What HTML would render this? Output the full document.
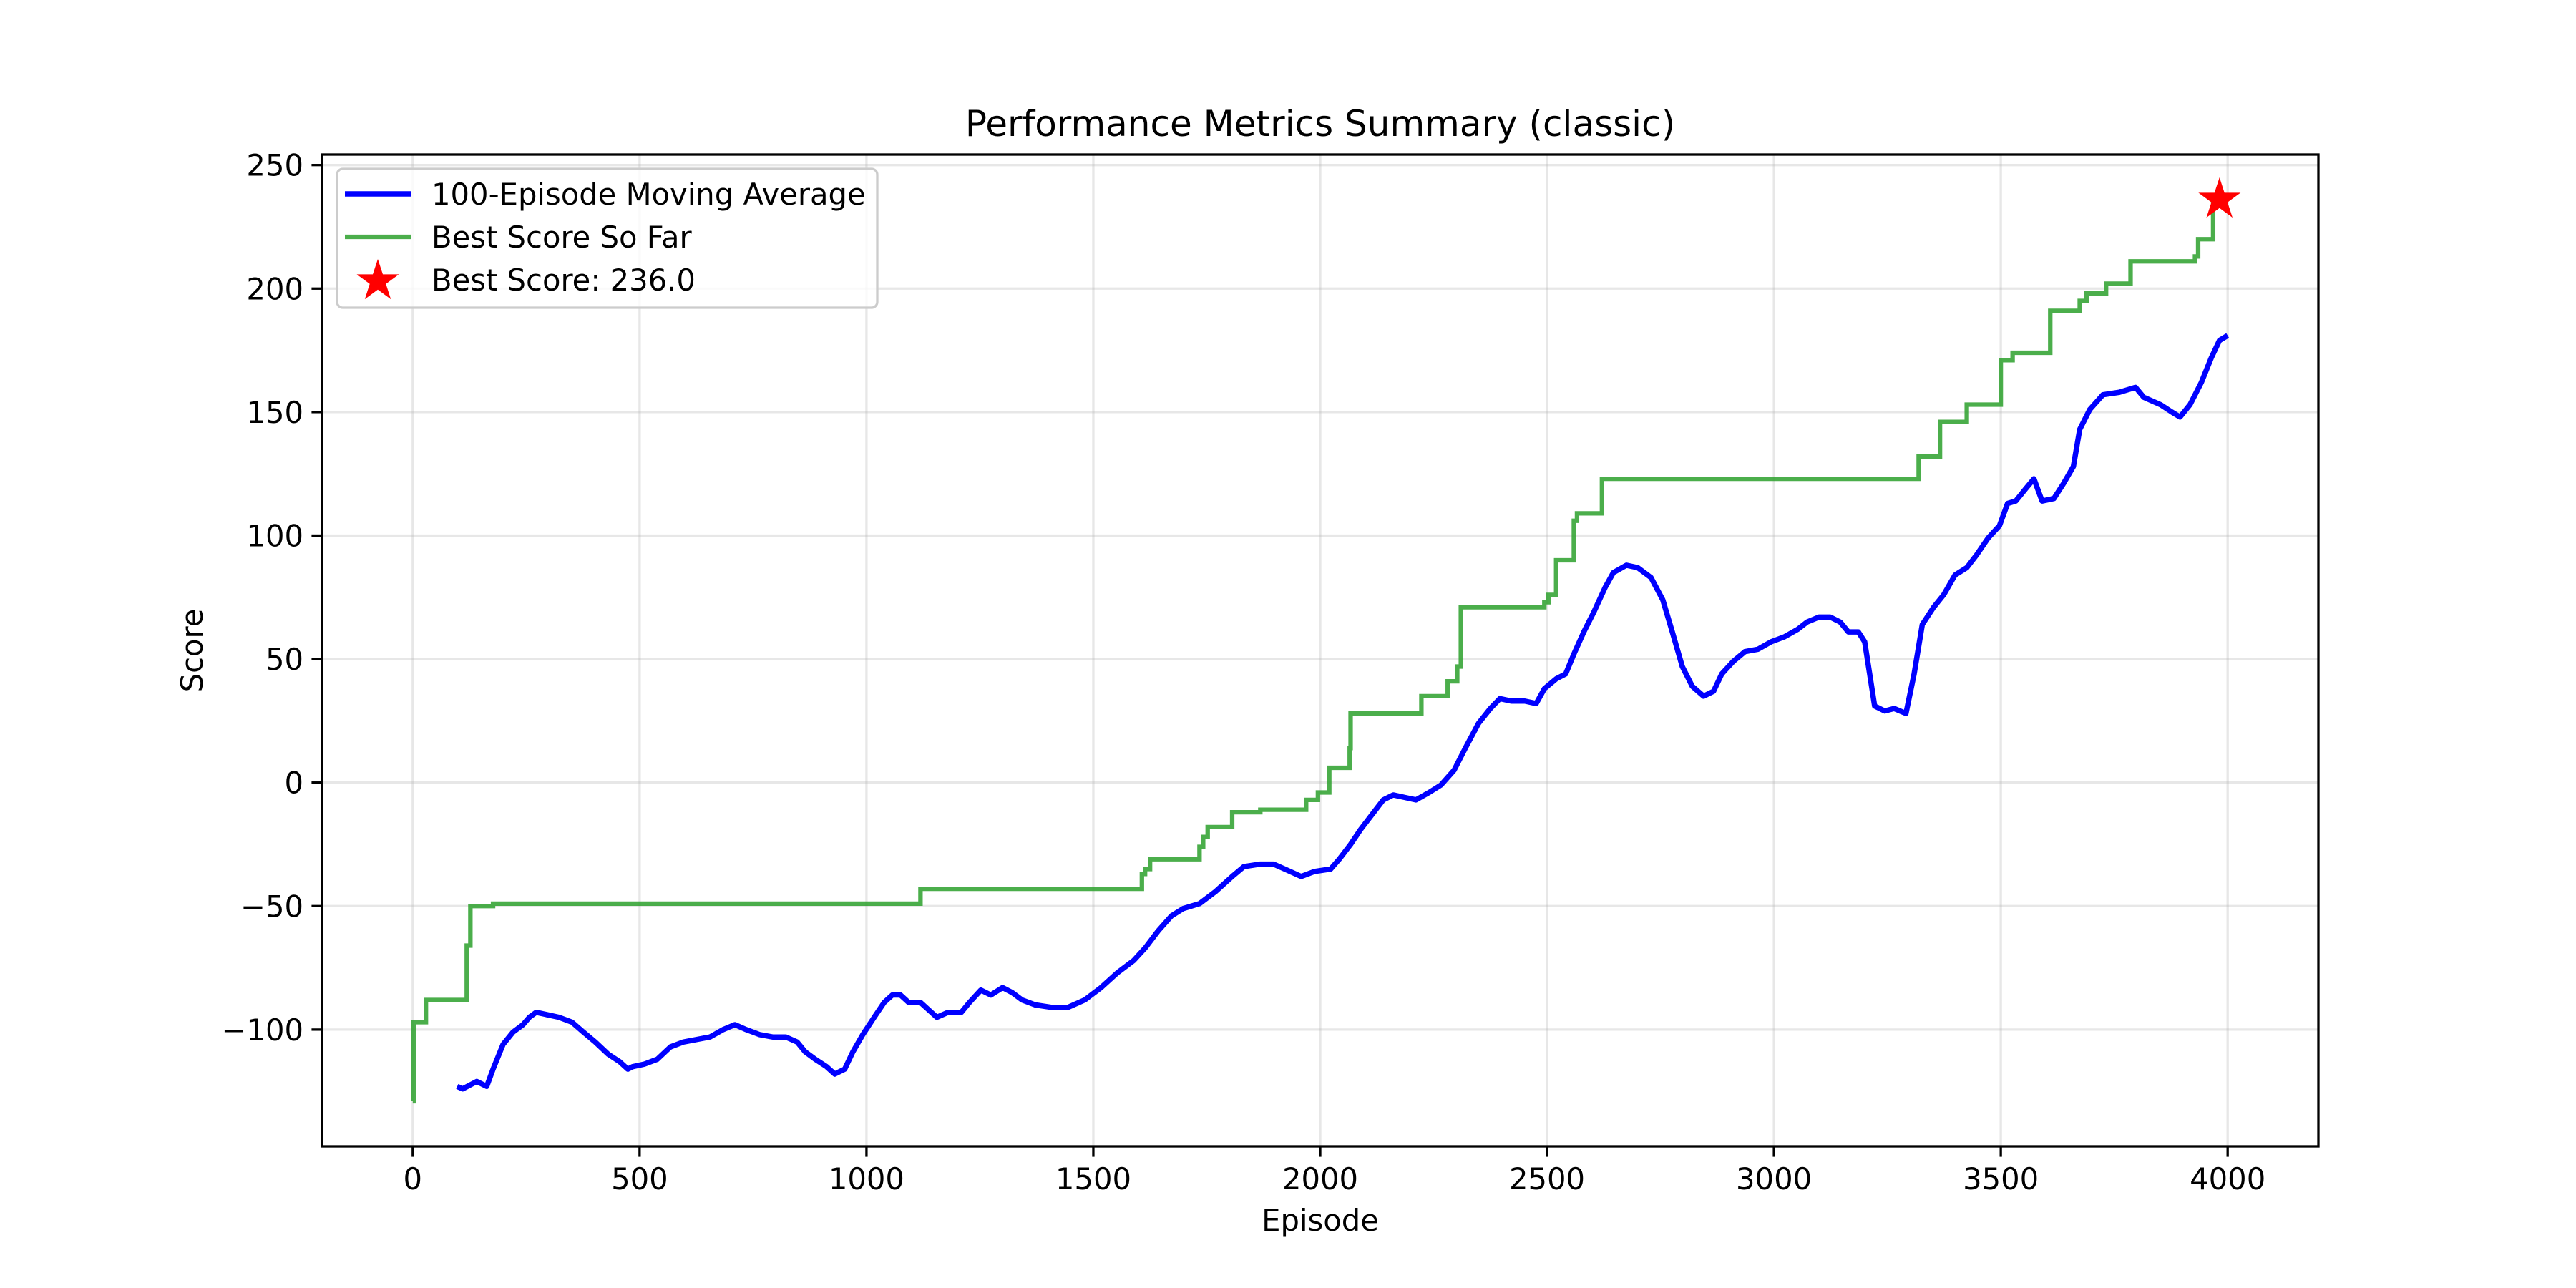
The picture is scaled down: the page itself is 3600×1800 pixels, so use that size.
<!DOCTYPE html>
<html><head><meta charset="utf-8"><style>
html,body{margin:0;padding:0;background:#fff;}
svg{display:block;font-family:"DejaVu Sans","Liberation Sans",sans-serif;}
</style></head><body>
<svg id="chart" width="3600" height="1800" viewBox="0 0 3600 1800" xmlns="http://www.w3.org/2000/svg">
<rect width="3600" height="1800" fill="#fff"/>
<g id="grid"></g>
<g id="series"></g>
<g id="axes"></g>
<g id="legend"></g>
</svg>
<script>
const maEpisodes=[98,110,141,163,177,199,221,243,257,272,297,322,351,376,402,431,456,474,485,510,539,568,597,626,655,684,710,735,764,793,822,847,865,887,912,930,952,970,992,1017,1039,1057,1075,1093,1119,1137,1155,1180,1209,1227,1252,1274,1300,1321,1343,1372,1408,1444,1481,1517,1553,1589,1614,1643,1672,1698,1734,1770,1806,1832,1868,1897,1922,1958,1987,2023,2042,2067,2089,2114,2139,2161,2186,2211,2240,2266,2295,2320,2349,2375,2396,2422,2451,2476,2494,2520,2541,2559,2581,2603,2628,2646,2675,2700,2729,2755,2776,2798,2820,2845,2867,2885,2910,2936,2965,2994,3023,3052,3073,3099,3124,3146,3164,3186,3200,3211,3222,3244,3265,3291,3309,3327,3352,3374,3399,3425,3446,3472,3497,3515,3533,3555,3573,3591,3617,3638,3660,3674,3696,3725,3761,3797,3815,3852,3877,3895,3917,3942,3964,3982,4000];
const maValues=[-123,-124,-121,-123,-116,-106,-101,-98,-95,-93,-94,-95,-97,-101,-105,-110,-113,-116,-115,-114,-112,-107,-105,-104,-103,-100,-98,-100,-102,-103,-103,-105,-109,-112,-115,-118,-116,-109,-102,-95,-89,-86,-86,-89,-89,-92,-95,-93,-93,-89,-84,-86,-83,-85,-88,-90,-91,-91,-88,-83,-77,-72,-67,-60,-54,-51,-49,-44,-38,-34,-33,-33,-35,-38,-36,-35,-31,-25,-19,-13,-7,-5,-6,-7,-4,-1,5,14,24,30,34,33,33,32,38,42,44,52,61,69,79,85,88,87,83,74,61,47,39,35,37,44,49,53,54,57,59,62,65,67,67,65,61,61,57,44,31,29,30,28,44,64,71,76,84,87,92,99,104,113,114,119,123,114,115,121,128,143,151,157,158,160,156,153,150,148,153,162,172,179,181];
const bestEpisodes=[0,2,29,119,127,177,1119,1607,1614,1625,1734,1742,1752,1806,1868,1969,1995,2020,2065,2067,2223,2281,2302,2310,2494,2503,2520,2559,2566,2621,3319,3366,3425,3500,3526,3609,3674,3689,3732,3786,3928,3935,3968,3990];
const bestValues=[-129,-97,-88,-66,-50,-49,-43,-37,-35,-31,-26,-22,-18,-12,-11,-7,-4,6,14,28,35,41,47,71,73,76,90,106,109,123,132,146,153,171,174,191,195,198,202,211,213,220,236,236];
const bestPoint=[3982,236];
const xTicks=[0,500,1000,1500,2000,2500,3000,3500,4000];
const yTicks=[-100,-50,0,50,100,150,200,250];

const L=450,R=3240,T=216,B=1602;
const X0=-200,X1=4200,Y0=-147.25,Y1=254.25;
const sx=v=>L+(v-X0)/(X1-X0)*(R-L);
const sy=v=>B-(v-Y0)/(Y1-Y0)*(B-T);
const NS="http://www.w3.org/2000/svg";
function mk(tag,attrs,parent){const e=document.createElementNS(NS,tag);for(const k in attrs)e.setAttribute(k,attrs[k]);parent.appendChild(e);return e;}
const grid=document.getElementById('grid'),series=document.getElementById('series'),axes=document.getElementById('axes'),legend=document.getElementById('legend');
function fmt(v){return v<0?'\u2212'+Math.abs(v):String(v);}
xTicks.forEach(t=>{
 const gl=mk('line',{x1:sx(t),x2:sx(t),y1:T,y2:B,stroke:'#b0b0b0','stroke-opacity':0.3,'stroke-width':3.3},grid);
 
 
 const tk=mk('line',{x1:sx(t),x2:sx(t),y1:B,y2:B+14.6,stroke:'#000','stroke-width':3.3},axes);
 
 
 const tx=mk('text',{x:sx(t),y:B+60,'font-size':41.7,'text-anchor':'middle',fill:'#000'},axes);
 tx.textContent=fmt(t);
 
 
});
yTicks.forEach(t=>{
 const gl=mk('line',{x1:L,x2:R,y1:sy(t),y2:sy(t),stroke:'#b0b0b0','stroke-opacity':0.3,'stroke-width':3.3},grid);
 
 
 const tk=mk('line',{x1:L-14.6,x2:L,y1:sy(t),y2:sy(t),stroke:'#000','stroke-width':3.3},axes);
 
 
 const tx=mk('text',{x:L-26,y:sy(t)+15,'font-size':41.7,'text-anchor':'end',fill:'#000'},axes);
 tx.textContent=fmt(t);
 
 
});
let d='';
bestEpisodes.forEach((e,i)=>{
 if(i===0)d+='M'+sx(e)+','+sy(bestValues[i]);
 else d+=' L'+sx(e)+','+sy(bestValues[i-1])+' L'+sx(e)+','+sy(bestValues[i]);
});
const gp=mk('path',{d:d,fill:'none',stroke:'#2ca02c','stroke-opacity':0.85,'stroke-width':6.25,'stroke-linejoin':'miter'},series);


const bp=mk('polyline',{points:maEpisodes.map((e,i)=>sx(e)+','+sy(maValues[i])).join(' '),fill:'none',stroke:'#0000ff','stroke-width':7.5,'stroke-linejoin':'round','stroke-linecap':'butt'},series);


function star(cx,cy,r){let p=[];for(let i=0;i<10;i++){const a=-Math.PI/2+i*Math.PI/5;const rr=i%2?r*0.382:r;p.push((cx+rr*Math.cos(a)).toFixed(1)+','+(cy+rr*Math.sin(a)).toFixed(1));}return p.join(' ');}
const st=mk('polygon',{points:star(sx(bestPoint[0]),sy(bestPoint[1]),31),fill:'#ff0000'},series);


const sp=mk('rect',{x:L,y:T,width:R-L,height:B-T,fill:'none',stroke:'#000','stroke-width':3.3},axes);


const lb=mk('rect',{x:471,y:236,width:755,height:194,rx:8,fill:'#fff','fill-opacity':0.8,stroke:'#cccccc','stroke-width':3.3},legend);


const entries=[['100-Episode Moving Average','blue'],['Best Score So Far','green'],['Best Score: 236.0','star']];
entries.forEach((en,i)=>{
 const y=271+i*60;
 if(en[1]==='blue'){const l=mk('line',{x1:482,x2:574,y1:y,y2:y,stroke:'#0000ff','stroke-width':7.5},legend);}
 else if(en[1]==='green'){const l=mk('line',{x1:482,x2:574,y1:y,y2:y,stroke:'#2ca02c','stroke-opacity':0.85,'stroke-width':6.25},legend);}
 else {const s=mk('polygon',{points:star(528,y+2,31),fill:'#ff0000'},legend);}
 const t=mk('text',{x:603,y:y+15,'font-size':41.7,fill:'#000'},legend);
 t.textContent=en[0];
 
 
});
const ti=mk('text',{x:(L+R)/2,y:190,'font-size':50,'text-anchor':'middle',fill:'#000'},axes);
ti.textContent='Performance Metrics Summary (classic)';


const xl=mk('text',{x:(L+R)/2,y:1720,'font-size':41.7,'text-anchor':'middle',fill:'#000'},axes);
xl.textContent='Episode';


const yl=mk('text',{x:0,y:0,'font-size':41.7,'text-anchor':'middle',fill:'#000',transform:'translate(283,'+((T+B)/2)+') rotate(-90)'},axes);
yl.textContent='Score';


</script>
</body></html>
